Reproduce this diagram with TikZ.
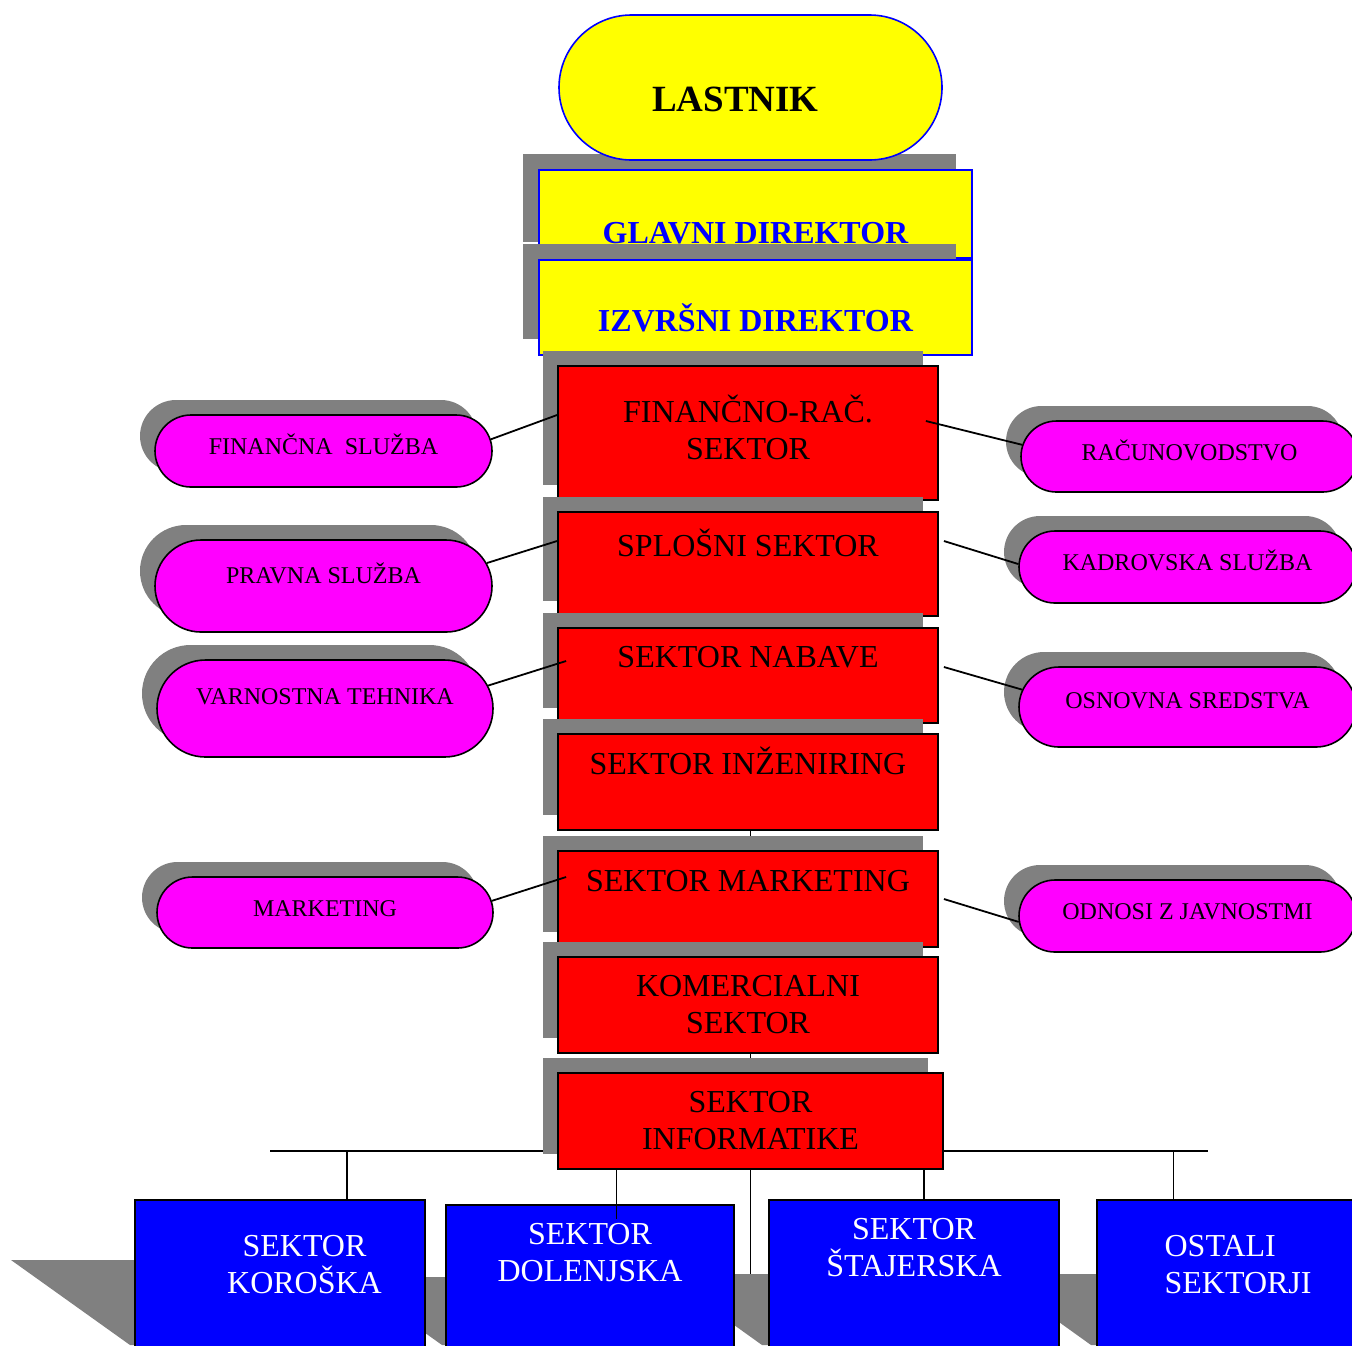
\documentclass[tikz,border=0pt]{standalone}
\usepackage{fontspec}
\setmainfont{Liberation Serif}
\usetikzlibrary{shapes.misc,shadows}
\definecolor{shadowgray}{RGB}{128,128,128}
\definecolor{ownyellow}{RGB}{255,255,0}
\definecolor{ownmagenta}{RGB}{255,0,255}
\definecolor{ownred}{RGB}{255,0,0}
\definecolor{ownblue}{RGB}{0,0,255}
\pgfdeclarelayer{background}
\pgfsetlayers{background,main}
\tikzset{
  grayshadow/.style={general shadow={shadow xshift=-#1, shadow yshift=#1, fill=shadowgray}},
  grayshadow/.default=7.5pt,
  ownerbox/.style={rounded rectangle, draw=ownblue, fill=ownyellow, line width=0.8pt,
    minimum width=191.5pt, minimum height=72.5pt, inner sep=0pt,
    font=\fontsize{18.5}{22}\selectfont\bfseries, text height=24.2pt, text depth=0pt},
  dirbox/.style={rectangle, draw=ownblue, fill=ownyellow, line width=0.8pt,
    minimum width=216.5pt, inner sep=0pt, text=ownblue, text depth=0pt,
    font=\fontsize{16}{19}\selectfont\bfseries, grayshadow=8pt},
  sectorbox/.style={rectangle, draw=black, fill=ownred, line width=0.9pt,
    minimum width=190pt, minimum height=48pt, inner sep=0pt, align=center,
    font=\fontsize{16}{18.5}\selectfont, grayshadow},
  topline/.style={text height=10.6pt, text depth=18.5pt},
  servicebox/.style={rounded rectangle, draw=black, fill=ownmagenta, line width=0.8pt,
    minimum width=168.5pt, inner sep=0pt, font=\fontsize{12}{14}\selectfont,
    text height=7.9pt, text depth=4pt, grayshadow},
  regionbox/.style={rectangle, draw=black, fill=ownblue, line width=0.8pt,
    minimum width=145pt, minimum height=80pt, inner sep=0pt, anchor=north},
  regiontext/.style={text=white, font=\fontsize{16}{18.5}\selectfont, align=center,
    inner sep=0pt, anchor=north},
  link/.style={draw=black, line width=0.9pt}
}
\begin{document}
\begin{tikzpicture}[x=0.5pt, y=-0.5pt]
  \path[use as bounding box] (0,0) rectangle (1352,1345);

  % top management
  \node[dirbox, minimum height=44pt, text height=29.6pt] (glavni) at (755.5,214) {GLAVNI DIREKTOR};
  \node[dirbox, minimum height=47.5pt, text height=24.1pt] (izvrs) at (755.5,307.5) {IZVRŠNI DIREKTOR};
  \node[ownerbox] (lastnik) at (750.5,87.5) {LASTNIK\kern15pt};

  % sectors
  \node[sectorbox, minimum height=67pt, text depth=6pt] (finrac) at (748,433) {FINANČNO-RAČ.\\SEKTOR};
  \node[sectorbox, topline, minimum height=52pt] (splos) at (748,564) {SPLOŠNI SEKTOR};
  \node[sectorbox, topline, minimum height=47.5pt] (nabava) at (748,675.5) {SEKTOR NABAVE};
  \node[sectorbox, topline] (inzen) at (748,782) {SEKTOR INŽENIRING};
  \node[sectorbox, topline] (smkt) at (748,899) {SEKTOR MARKETING};
  \node[sectorbox] (komerc) at (748,1005) {KOMERCIALNI\\SEKTOR};
  \node[sectorbox, minimum width=192.5pt] (info) at (750.5,1121) {SEKTOR\\INFORMATIKE};

  % services left
  \node[servicebox, minimum height=36pt] (finsl) at (323.5,451) {FINANČNA\ \ SLUŽBA};
  \node[servicebox, minimum height=46pt, text depth=10.5pt] (pravna) at (323.5,586) {PRAVNA SLUŽBA};
  \node[servicebox, minimum width=168pt, minimum height=48.5pt, text depth=12pt] (varn) at (325,708.5) {VARNOSTNA TEHNIKA};
  \node[servicebox, minimum width=168pt, minimum height=35.5pt] (mktsl) at (325,912.5) {MARKETING};

  % services right
  \node[servicebox, minimum height=35.5pt] (racun) at (1189.5,456.5) {RAČUNOVODSTVO};
  \node[servicebox, minimum height=36pt] (kadr) at (1187.5,567) {KADROVSKA SLUŽBA};
  \node[servicebox, minimum height=40pt, text depth=6pt] (osnsr) at (1187.5,707) {OSNOVNA SREDSTVA};
  \node[servicebox, minimum height=36pt] (odnosi) at (1187.5,916) {ODNOSI Z JAVNOSTMI};

  % regions
  \node[regionbox, label={[regiontext, xshift=12.25pt, yshift=-18pt]north:SEKTOR\\KOROŠKA}] (kor) at (280,1199) {};
  \node[regionbox, minimum width=144pt, label={[regiontext, yshift=-9.5pt]north:SEKTOR\\DOLENJSKA}] (dol) at (590,1204) {};
  \node[regionbox, label={[regiontext, yshift=-9.5pt]north:SEKTOR\\ŠTAJERSKA}] (staj) at (914,1199) {};
  \node[regionbox, label={[regiontext, align=left, anchor=north west, xshift=34pt, yshift=-18pt]north west:OSTALI\\SEKTORJI}] (ost) at (1242,1199) {};

  % service links
  \draw[link] (finsl.4) -- ([yshift=9pt]finrac.west);
  \draw[link] (pravna.8) -- ([yshift=11.5pt]splos.west);
  \draw[link] (varn.8) -- ([shift={(4.5pt,7.25pt)}]nabava.west);
  \draw[link] (mktsl.4) -- ([shift={(4.5pt,11pt)}]smkt.west);
  \draw[link] ([shift={(-6.5pt,6pt)}]finrac.east) -- (racun.176);
  \draw[link] ([shift={(2.5pt,11.5pt)}]splos.east) -- (kadr.179);
  \draw[link] ([shift={(2.5pt,4.25pt)}]nabava.east) -- (osnsr.174);
  \draw[link] ([xshift=2.5pt]smkt.east) -- (odnosi.182);

  % drops to the regions
  \coordinate (dk) at (347,1151);
  \coordinate (dd) at (616.5,1151);
  \coordinate (ds) at (924,1151);
  \coordinate (dost) at (1173.5,1151);
  \draw[link] (dk) -- (dk |- kor.north);
  \draw[link] (dd |- info.south) -- ++(0,49);
  \draw[link] (ds |- info.south) -- (ds |- staj.north);
  \draw[link] (dost) -- (dost |- ost.north);

  \begin{pgfonlayer}{background}
    \coordinate (busL) at (270,1151);
    \coordinate (busR) at (1208,1151);
    \coordinate (busend) at (750.5,1274);
    \draw[link] (izvrs.south -| info.south) -- (busend);
    \draw[link, line width=1.1pt] (busL) -- (busR);
    % region shadows
    \fill[shadowgray] (11,1260) -- (300,1260) -- (300,1345) -- (130,1345) -- cycle;
    \fill[shadowgray] (347,1277) -- (600,1277) -- (600,1345) -- (442,1345) -- cycle;
    \fill[shadowgray] (663,1274) -- (900,1274) -- (900,1345) -- (762,1345) -- cycle;
    \fill[shadowgray] (992,1274) -- (1200,1274) -- (1200,1345) -- (1091,1345) -- cycle;
  \end{pgfonlayer}
\end{tikzpicture}
\end{document}
